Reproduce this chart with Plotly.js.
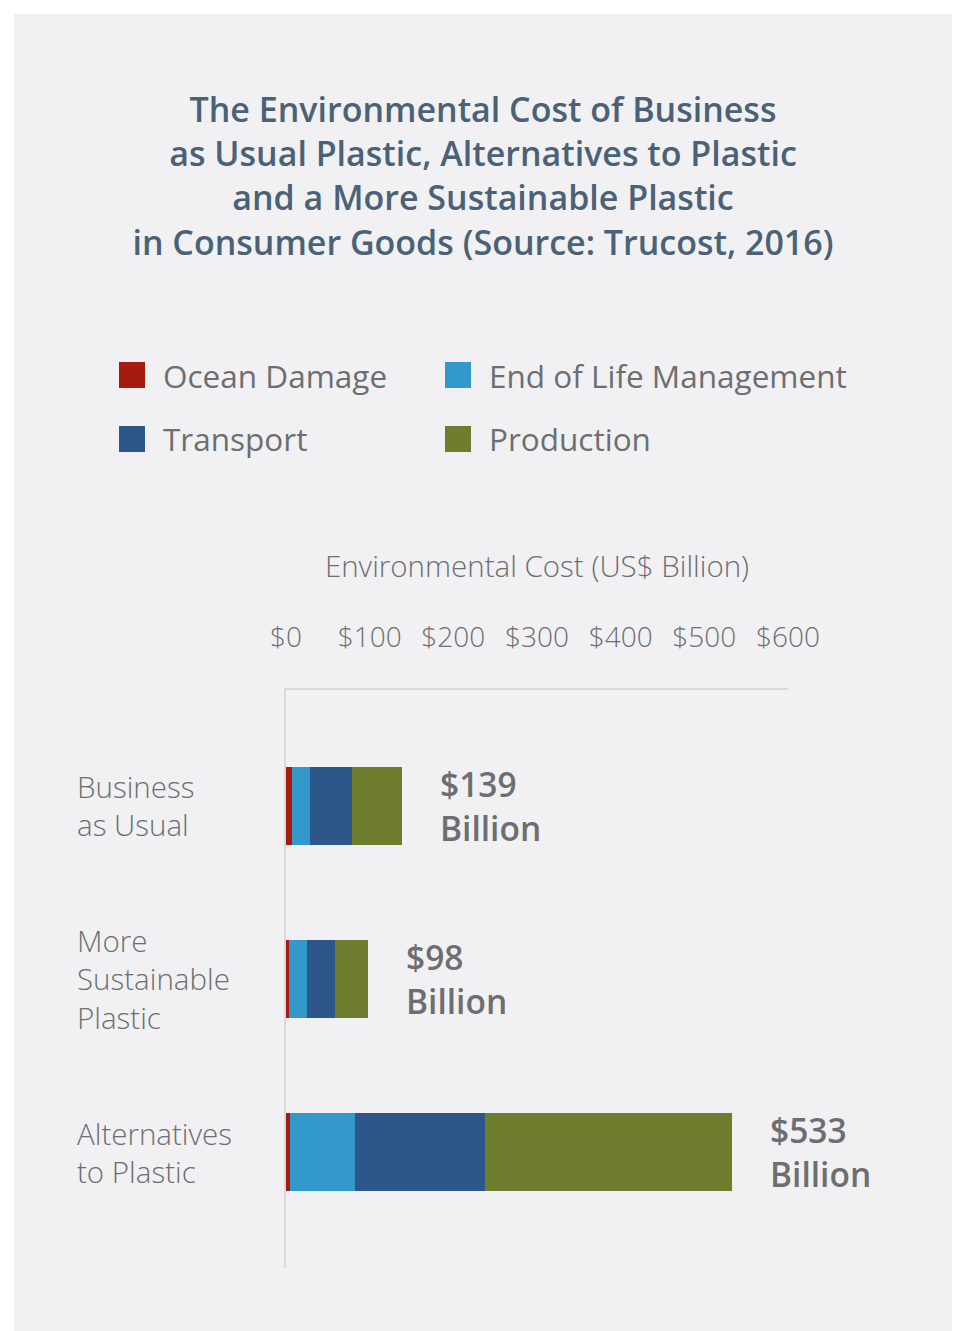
<!DOCTYPE html>
<html>
<head>
<meta charset="utf-8">
<script src="https://cdn.plot.ly/plotly-3.0.1.min.js"></script>
<style>
  html, body { margin: 0; padding: 0; background: #ffffff; }
  #chart { position: absolute; left: 14px; top: 14px; width: 938px; height: 1317px; }
</style>
</head>
<body>
<div id="chart"></div>
<script>
// ---- data ----
const categories = ["Business<br>as Usual", "More<br>Sustainable<br>Plastic", "Alternatives<br>to Plastic"];
const seriesNames = ["Ocean Damage", "End of Life Management", "Transport", "Production"];
const oceanDamage = [7, 3, 5];
const endOfLife = [22, 22, 77];
const transport = [50, 34, 156];
const production = [60, 39, 295];
const totals = [139, 98, 533];
const totalLabels = ["$139<br>Billion", "$98<br>Billion", "$533<br>Billion"];
const tickVals = [0, 100, 200, 300, 400, 500, 600];
const tickLabels = ["$0", "$100", "$200", "$300", "$400", "$500", "$600"];
const colors = ["#a51c0f", "#3399cb", "#2d5789", "#6e7e2e"];

// ---- layout helpers ----
const W = 938, H = 1317;
const M = { l: 272, r: 164, t: 676, b: 63 };
const PW = W - M.l - M.r, PH = H - M.t - M.b;
const px = x => (x - M.l) / PW;            // div pixel -> paper x
const py = y => 1 - (y - M.t) / PH;        // div pixel -> paper y

const gray = "#6d6e71";
const FONT = "Open Sans, Noto Sans, sans-serif";

const seriesValues = [oceanDamage, endOfLife, transport, production];
const traces = seriesValues.map((vals, i) => ({
  type: "bar",
  orientation: "h",
  name: seriesNames[i],
  y: categories,
  x: vals,
  width: 0.45,
  marker: { color: colors[i], line: { width: 0 } },
  showlegend: false,
  hoverinfo: "x+name"
}));

const annotations = [];
// category labels (left aligned)
categories.forEach((c, i) => {
  annotations.push({
    xref: "paper", yref: "y", x: px(61), y: c,
    xanchor: "left", yanchor: "middle", align: "left",
    text: c, showarrow: false,
    font: { family: FONT, size: 29.5, color: gray, weight: 300 }
  });
});
// total labels
categories.forEach((c, i) => {
  annotations.push({
    xref: "x", yref: "y", x: totals[i], y: c,
    xanchor: "left", yanchor: "middle", align: "left", xshift: 36,
    text: totalLabels[i], showarrow: false,
    font: { family: FONT, size: 33.5, color: gray, weight: 600 }
  });
});

// manual legend
const legCols = [105, 431];   // square left (div px)
const legRows = [361, 425];   // square center y (div px)
const sq = 26;
const shapes = [];
seriesNames.forEach((n, i) => {
  const col = i % 2;
  const row = i < 2 ? 0 : 1;
  const x0 = legCols[col], yc = legRows[row];
  shapes.push({
    type: "rect", xref: "paper", yref: "paper",
    x0: px(x0), x1: px(x0 + sq), y0: py(yc - sq / 2), y1: py(yc + sq / 2),
    fillcolor: colors[i], line: { width: 0 }
  });
  annotations.push({
    xref: "paper", yref: "paper", x: px(x0 + 42), y: py(yc),
    xanchor: "left", yanchor: "middle", text: n, showarrow: false,
    font: { family: FONT, size: 31.5, color: gray, weight: 400 }
  });
});

const layout = {
  width: W, height: H,
  paper_bgcolor: "#f1f1f3",
  plot_bgcolor: "#f1f1f3",
  margin: M,
  title: {
    text: "The Environmental Cost of Business<br>as Usual Plastic, Alternatives to Plastic<br>and a More Sustainable Plastic<br>in Consumer Goods (Source: Trucost, 2016)",
    font: { family: FONT, size: 34, color: "#4b6276", weight: 600 },
    x: 0.5, xanchor: "center",
    yref: "container", y: 1 - 108 / H, yanchor: "top"
  },
  barmode: "stack",
  bargap: 0,
  xaxis: {
    side: "top",
    range: [0, 600],
    tickvals: tickVals,
    ticktext: tickLabels,
    ticks: "",
    ticklabelstandoff: 30,
    showline: true, linecolor: "#d9d9dc", linewidth: 2,
    showgrid: false, zeroline: false,
    tickfont: { family: FONT, size: 28, color: gray, weight: 300 },
    title: {
      text: "Environmental Cost (US$ Billion)",
      font: { family: FONT, size: 29.5, color: gray, weight: 300 },
      standoff: 30
    },
    fixedrange: true
  },
  yaxis: {
    type: "category",
    range: [2.67, -0.67],
    showticklabels: false,
    ticks: "",
    showline: true, linecolor: "#d9d9dc", linewidth: 2,
    showgrid: false, zeroline: false,
    fixedrange: true
  },
  annotations: annotations,
  shapes: shapes,
  font: { family: FONT, color: gray },
  hovermode: "closest"
};

Plotly.newPlot("chart", traces, layout, { displayModeBar: false });
</script>
</body>
</html>
